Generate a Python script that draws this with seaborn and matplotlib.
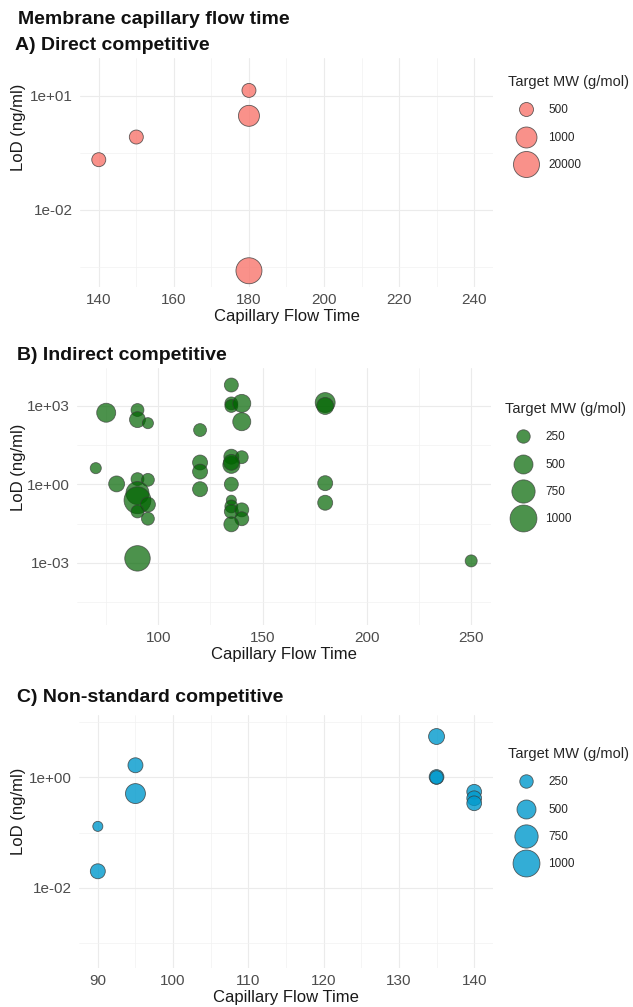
import numpy as np
import pandas as pd
import seaborn as sns
import matplotlib.pyplot as plt
from matplotlib.lines import Line2D
from matplotlib.ticker import NullFormatter

# Figure size in pixels
W, H, DPI = 633, 1007, 100

# A) Direct competitive
a_time = [140, 150, 180, 180, 180]
a_lod = [0.21, 0.83, 14, 3.0, 0.00025]
a_mw = [500, 500, 500, 1000, 20000]

# B) Indirect competitive
b_time = [70, 75, 80, 90, 90, 95, 90, 95, 90, 90, 95, 90, 95, 90,
          120, 120, 120, 120, 135, 135, 135, 140, 140, 135, 140, 135, 135,
          135, 135, 135, 135, 140, 140, 135, 180, 180, 180, 180, 250]
b_lod = [4.2, 550, 1.05, 700, 300, 220, 1.6, 1.5, 0.47, 0.25, 0.17, 0.093, 0.049, 0.0015,
         120, 6.9, 3.1, 0.66, 6300, 1250, 1000, 1250, 250, 11.5, 11, 5.6, 7.0,
         1.02, 0.25, 0.145, 0.093, 0.107, 0.049, 0.030, 1350, 1000, 1.12, 0.2, 0.0012]
b_mw = [170, 500, 350, 230, 350, 170, 230, 230, 730, 1000, 310, 230, 230, 900,
        230, 310, 310, 310, 270, 230, 230, 450, 450, 310, 230, 400, 350,
        270, 140, 230, 270, 270, 270, 310, 550, 400, 310, 310, 200]

# C) Non-standard competitive
c_time = [90, 90, 95, 95, 135, 135, 135, 140, 140, 140]
c_lod = [0.13, 0.020, 1.66, 0.51, 5.5, 1.02, 1.0, 0.55, 0.42, 0.34]
c_mw = [140, 310, 310, 550, 350, 300, 250, 300, 300, 300]

# axis ticks
a_xticks = [140, 160, 180, 200, 220, 240]
a_yticks = [1e1, 1e-2]
a_ylabels = ["1e+01", "1e-02"]
b_xticks = [100, 150, 200, 250]
b_yticks = [1e3, 1e0, 1e-3]
b_ylabels = ["1e+03", "1e+00", "1e-03"]
c_xticks = [90, 100, 110, 120, 130, 140]
c_yticks = [1e0, 1e-2]
c_ylabels = ["1e+00", "1e-02"]

legend_a = [500, 1000, 20000]
legend_bc = [250, 500, 750, 1000]

sns.set_theme(style="whitegrid")
plt.rcParams["font.family"] = ["Liberation Sans", "DejaVu Sans"]

EDGE = "#3a3a3a"
PX = 72 / DPI  # points per pixel

# marker diameters in px for panel A (ordered levels)
a_diam = {500: 14, 1000: 21, 20000: 26}


def area_a(v):
    return (a_diam[v] * PX) ** 2


def area_cont(v):
    return (0.85 * np.sqrt(v) * PX) ** 2


def px_axes(fig, left, top, right, bottom):
    return fig.add_axes([left / W, 1 - bottom / H, (right - left) / W, (bottom - top) / H])


def style_axes(ax, xlim, xticks, xminor, ylog, yticks, ylabels, yminor, box, ylab_y):
    ax.set_yscale("log")
    ax.set_xlim(*xlim)
    ax.set_ylim(10 ** ylog[0], 10 ** ylog[1])
    ax.set_xticks(xticks)
    ax.set_xticks(xminor, minor=True)
    ax.set_yticks(yticks, labels=ylabels)
    ax.set_yticks(yminor, minor=True)
    ax.yaxis.set_minor_formatter(NullFormatter())
    ax.xaxis.set_minor_formatter(NullFormatter())
    ax.set_facecolor("white")
    for s in ax.spines.values():
        s.set_visible(False)
    ax.grid(which="major", color="#EBEBEB", lw=0.8)
    ax.grid(which="minor", color="#F2F2F2", lw=0.5)
    ax.set_axisbelow(True)
    ax.tick_params(which="both", length=0)
    ax.tick_params(axis="x", pad=4, labelsize=11, labelcolor="#4D4D4D")
    ax.tick_params(axis="y", pad=5, labelsize=11, labelcolor="#4D4D4D")
    ax.set_xlabel("Capillary Flow Time", fontsize=12, color="#1A1A1A")
    ax.set_ylabel("LoD (ng/ml)", fontsize=12, color="#1A1A1A")
    left, top, right, bottom = box
    ax.xaxis.set_label_coords(0.5, -22 / (bottom - top))
    ax.yaxis.set_label_coords((26 - left) / (right - left), (bottom - ylab_y) / (bottom - top))


def add_legend(fig, values, area_fn, color, alpha, x, y):
    handles = [Line2D([], [], marker="o", linestyle="", markersize=np.sqrt(area_fn(v)),
                      markerfacecolor=color, markeredgecolor=EDGE, markeredgewidth=0.6,
                      alpha=alpha) for v in values]
    fig.legend(handles, [str(v) for v in values], title="Target MW (g/mol)",
               loc="upper left", bbox_to_anchor=(x / W, 1 - y / H), frameon=False,
               fontsize=8.5, title_fontsize=10.5, labelspacing=1.3, handlelength=3.0,
               handletextpad=0.4, borderpad=0, borderaxespad=0, alignment="left")


fig = plt.figure(figsize=(W / DPI, H / DPI), dpi=DPI)
fig.patch.set_facecolor("white")

fig.text(18 / W, 1 - 20 / H, "Membrane capillary flow time", fontsize=14, fontweight="bold",
         va="center", ha="left", color="#111111")

# ---- Panel A
df_a = pd.DataFrame({"time": a_time, "lod": a_lod, "mw": a_mw})
box_a = (80, 58, 493, 287)
ax_a = px_axes(fig, *box_a)
sns.scatterplot(data=df_a, x="time", y="lod", size="mw",
                sizes={v: area_a(v) for v in df_a["mw"].unique()},
                color="#F8766D", alpha=0.8, edgecolor=EDGE, linewidth=0.6,
                legend=False, ax=ax_a)
style_axes(ax_a, (135, 245), a_xticks, [150, 170, 190, 210, 230], (-4.03, 2.0),
           a_yticks, a_ylabels, [10 ** -0.5, 10 ** -3.5], box_a, 127)
fig.text(15 / W, 1 - 45 / H, "A) Direct competitive", fontsize=14, fontweight="bold",
         va="center", ha="left", color="#111111")
add_legend(fig, legend_a, area_a, "#F8766D", 0.8, 508, 75)

# ---- Panel B
df_b = pd.DataFrame({"time": b_time, "lod": b_lod, "mw": b_mw})
box_b = (77, 368, 491, 625)
ax_b = px_axes(fig, *box_b)
sns.scatterplot(data=df_b, x="time", y="lod", size="mw",
                sizes={v: area_cont(v) for v in df_b["mw"].unique()},
                color="#006400", alpha=0.7, edgecolor=EDGE, linewidth=0.6,
                legend=False, ax=ax_b)
style_axes(ax_b, (61, 259.5), b_xticks, [75, 125, 175, 225], (-5.37, 4.45),
           b_yticks, b_ylabels, [10 ** 1.5, 10 ** -1.5, 10 ** -4.5], box_b, 467)
fig.text(17 / W, 1 - 355 / H, "B) Indirect competitive", fontsize=14, fontweight="bold",
         va="center", ha="left", color="#111111")
add_legend(fig, legend_bc, area_cont, "#006400", 0.7, 505, 402)

# ---- Panel C
df_c = pd.DataFrame({"time": c_time, "lod": c_lod, "mw": c_mw})
box_c = (79, 715, 493, 968)
ax_c = px_axes(fig, *box_c)
sns.scatterplot(data=df_c, x="time", y="lod", size="mw",
                sizes={v: area_cont(v) for v in df_c["mw"].unique()},
                color="#0099CC", alpha=0.8, edgecolor=EDGE, linewidth=0.6,
                legend=False, ax=ax_c)
style_axes(ax_c, (87.5, 142.5), c_xticks, [95, 105, 115, 125, 135], (-3.45, 1.13),
           c_yticks, c_ylabels, [1e1, 1e-1, 1e-3], box_c, 811)
fig.text(17 / W, 1 - 698 / H, "C) Non-standard competitive", fontsize=14, fontweight="bold",
         va="center", ha="left", color="#111111")
add_legend(fig, legend_bc, area_cont, "#0099CC", 0.8, 508, 747)

fig.savefig("out.png", dpi=DPI, facecolor="white")
